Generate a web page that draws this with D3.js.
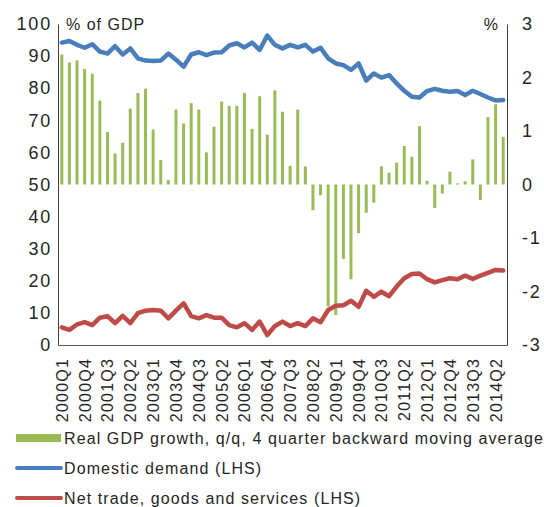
<!DOCTYPE html>
<html>
<head>
<meta charset="utf-8">
<script src="https://cdn.jsdelivr.net/npm/d3@7"></script>
<style>
  body { margin: 0; background: #fff; }
  svg text { font-family: "Liberation Sans", Arial, sans-serif; fill: #262626; }
</style>
</head>
<body>
<svg class="chart"></svg>
<script>
// quarters 2000Q1 .. 2014Q3
const quarters = [
  "2000Q1","2000Q2","2000Q3","2000Q4","2001Q1","2001Q2","2001Q3","2001Q4",
  "2002Q1","2002Q2","2002Q3","2002Q4","2003Q1","2003Q2","2003Q3","2003Q4",
  "2004Q1","2004Q2","2004Q3","2004Q4","2005Q1","2005Q2","2005Q3","2005Q4",
  "2006Q1","2006Q2","2006Q3","2006Q4","2007Q1","2007Q2","2007Q3","2007Q4",
  "2008Q1","2008Q2","2008Q3","2008Q4","2009Q1","2009Q2","2009Q3","2009Q4",
  "2010Q1","2010Q2","2010Q3","2010Q4","2011Q1","2011Q2","2011Q3","2011Q4",
  "2012Q1","2012Q2","2012Q3","2012Q4","2013Q1","2013Q2","2013Q3","2013Q4",
  "2014Q1","2014Q2","2014Q3"
];

// Real GDP growth q/q, 4q backward moving average (%, RHS)
const gdpGrowth = [
  2.43, 2.28, 2.32, 2.16, 2.07, 1.57, 0.98, 0.58, 0.78, 1.42, 1.71, 1.79, 1.03, 0.46, 0.08, 1.40,
  1.14, 1.52, 1.40, 0.60, 1.08, 1.55, 1.47, 1.47, 1.71, 1.04, 1.65, 0.93, 1.76, 1.36, 0.35, 1.40,
  0.34, -0.48, -0.20, -2.28, -2.44, -1.39, -1.77, -0.91, -0.53, -0.34, 0.34, 0.22, 0.41, 0.72,
  0.52, 1.09, 0.07, -0.44, -0.17, 0.24, 0.02, 0.06, 0.47, -0.29, 1.26, 1.50, 0.89
];

// Domestic demand (% of GDP, LHS)
const domestic = [
  94.2, 94.7, 93.5, 92.6, 93.7, 91.4, 90.8, 93.1, 90.5, 92.4, 89.3, 88.6, 88.5, 88.6, 90.8, 88.9,
  86.7, 90.5, 91.2, 90.3, 91.1, 91.2, 93.3, 94.0, 92.7, 94.2, 91.9, 96.4, 93.5, 92.4, 93.5, 92.7,
  93.5, 91.4, 92.6, 89.3, 87.7, 87.2, 85.7, 87.7, 82.4, 84.6, 83.3, 84.1, 81.5, 79.2, 77.3, 77.1,
  79.1, 79.8, 79.2, 78.9, 79.1, 77.9, 79.2, 78.2, 77.1, 76.2, 76.3
];

// Net trade, goods and services (% of GDP, LHS)
const netTrade = [
  5.5, 4.7, 6.4, 7.1, 6.2, 8.5, 9.0, 6.8, 9.1, 6.8, 9.9, 10.7, 10.9, 10.7, 8.3, 10.7,
  13.0, 9.0, 8.3, 9.3, 8.5, 8.5, 6.2, 5.5, 6.8, 4.7, 7.3, 3.1, 5.9, 7.3, 5.9, 6.8,
  5.9, 8.3, 7.1, 10.9, 12.2, 12.4, 13.8, 11.9, 16.9, 15.0, 16.6, 15.2, 18.2, 20.8, 22.1, 22.3,
  20.5, 19.5, 20.2, 20.8, 20.5, 21.6, 20.6, 21.6, 22.5, 23.4, 23.2
];

const leftTicks = [0, 10, 20, 30, 40, 50, 60, 70, 80, 90, 100];
const rightTicks = [-3, -2, -1, 0, 1, 2, 3];

const legendItems = [
  { label: "Real GDP growth, q/q, 4 quarter backward moving average", type: "bar" },
  { label: "Domestic demand (LHS)", type: "line", color: "#4A7EBB" },
  { label: "Net trade, goods and services (LHS)", type: "line", color: "#BE4B48" }
];

const width = 544, height = 507;
const margin = { top: 24, right: 37, bottom: 162, left: 58 };
const green = "#9BBB59";

const svg = d3.select(".chart")
  .attr("width", width)
  .attr("height", height);

const x = d3.scaleBand()
  .domain(quarters)
  .range([margin.left, width - margin.right]);

const yLeft = d3.scaleLinear()
  .domain([0, 100])
  .range([height - margin.bottom, margin.top]);

const yRight = d3.scaleLinear()
  .domain([-3, 3])
  .range([height - margin.bottom, margin.top]);

// bars (RHS)
const barW = 3;
svg.append("g")
  .selectAll("rect")
  .data(gdpGrowth)
  .join("rect")
  .attr("x", (d, i) => x(quarters[i]) + x.bandwidth() / 2 - barW / 2)
  .attr("y", d => yRight(Math.max(0, d)))
  .attr("width", barW)
  .attr("height", d => Math.abs(yRight(d) - yRight(0)))
  .attr("fill", green);

// lines (LHS)
const line = d3.line()
  .x((d, i) => x(quarters[i]) + x.bandwidth() / 2)
  .y(d => yLeft(d));

[[domestic, "#4A7EBB"], [netTrade, "#BE4B48"]].forEach(([vals, col]) => {
  svg.append("path")
    .datum(vals)
    .attr("d", line)
    .attr("fill", "none")
    .attr("stroke", col)
    .attr("stroke-width", 4.5)
    .attr("stroke-linejoin", "round")
    .attr("stroke-linecap", "round");
});

// left axis
svg.append("g")
  .attr("transform", `translate(${margin.left},0)`)
  .call(d3.axisLeft(yLeft).tickValues(leftTicks).tickSize(0).tickPadding(6).tickFormat(d => String(d)))
  .call(g => g.select(".domain").attr("stroke", "#404040"))
  .selectAll("text")
  .style("font-size", "18px")
  .style("letter-spacing", "1.8px")
  .attr("fill", "#262626");

// right axis
svg.append("g")
  .attr("transform", `translate(${width - margin.right},0)`)
  .call(d3.axisRight(yRight).tickValues(rightTicks).tickSize(0).tickPadding(15).tickFormat(d => String(d)))
  .call(g => g.select(".domain").attr("stroke", "#404040"))
  .selectAll("text")
  .style("font-size", "18px")
  .style("letter-spacing", "1.8px")
  .attr("fill", "#262626");

// bottom axis
svg.append("g")
  .attr("transform", `translate(0,${height - margin.bottom})`)
  .call(d3.axisBottom(x).tickValues(quarters.filter((q, i) => i % 3 === 0)).tickSize(0).tickPadding(0))
  .call(g => g.select(".domain").attr("stroke", "#595959"))
  .selectAll("text")
  .style("font-size", "16px")
  .style("letter-spacing", "1.2px")
  .style("text-anchor", "end")
  .attr("fill", "#262626")
  .attr("dy", null)
  .attr("y", 0)
  .attr("transform", "translate(6,13) rotate(-90)");

// unit labels
svg.append("text")
  .attr("x", 66)
  .attr("y", 30)
  .style("font-size", "16px")
  .style("letter-spacing", "1px")
  .text("% of GDP");

svg.append("text")
  .attr("x", 498)
  .attr("y", 30)
  .style("font-size", "16px")
  .style("text-anchor", "end")
  .text("%");

// legend
const legend = svg.append("g").attr("class", "legend");
const rowY = [438, 468, 498];

legendItems.forEach((item, i) => {
  if (item.type === "bar") {
    legend.append("rect")
      .attr("x", 16).attr("y", rowY[i] - 4)
      .attr("width", 45).attr("height", 8)
      .attr("fill", green);
  } else {
    legend.append("line")
      .attr("x1", 17).attr("x2", 61)
      .attr("y1", rowY[i]).attr("y2", rowY[i])
      .attr("stroke", item.color)
      .attr("stroke-width", 4)
      .attr("stroke-linecap", "round");
  }
  legend.append("text")
    .attr("x", 64)
    .attr("y", rowY[i] + 6)
    .style("font-size", "16px")
    .style("letter-spacing", "1.1px")
    .text(item.label);
});
</script>
</body>
</html>
